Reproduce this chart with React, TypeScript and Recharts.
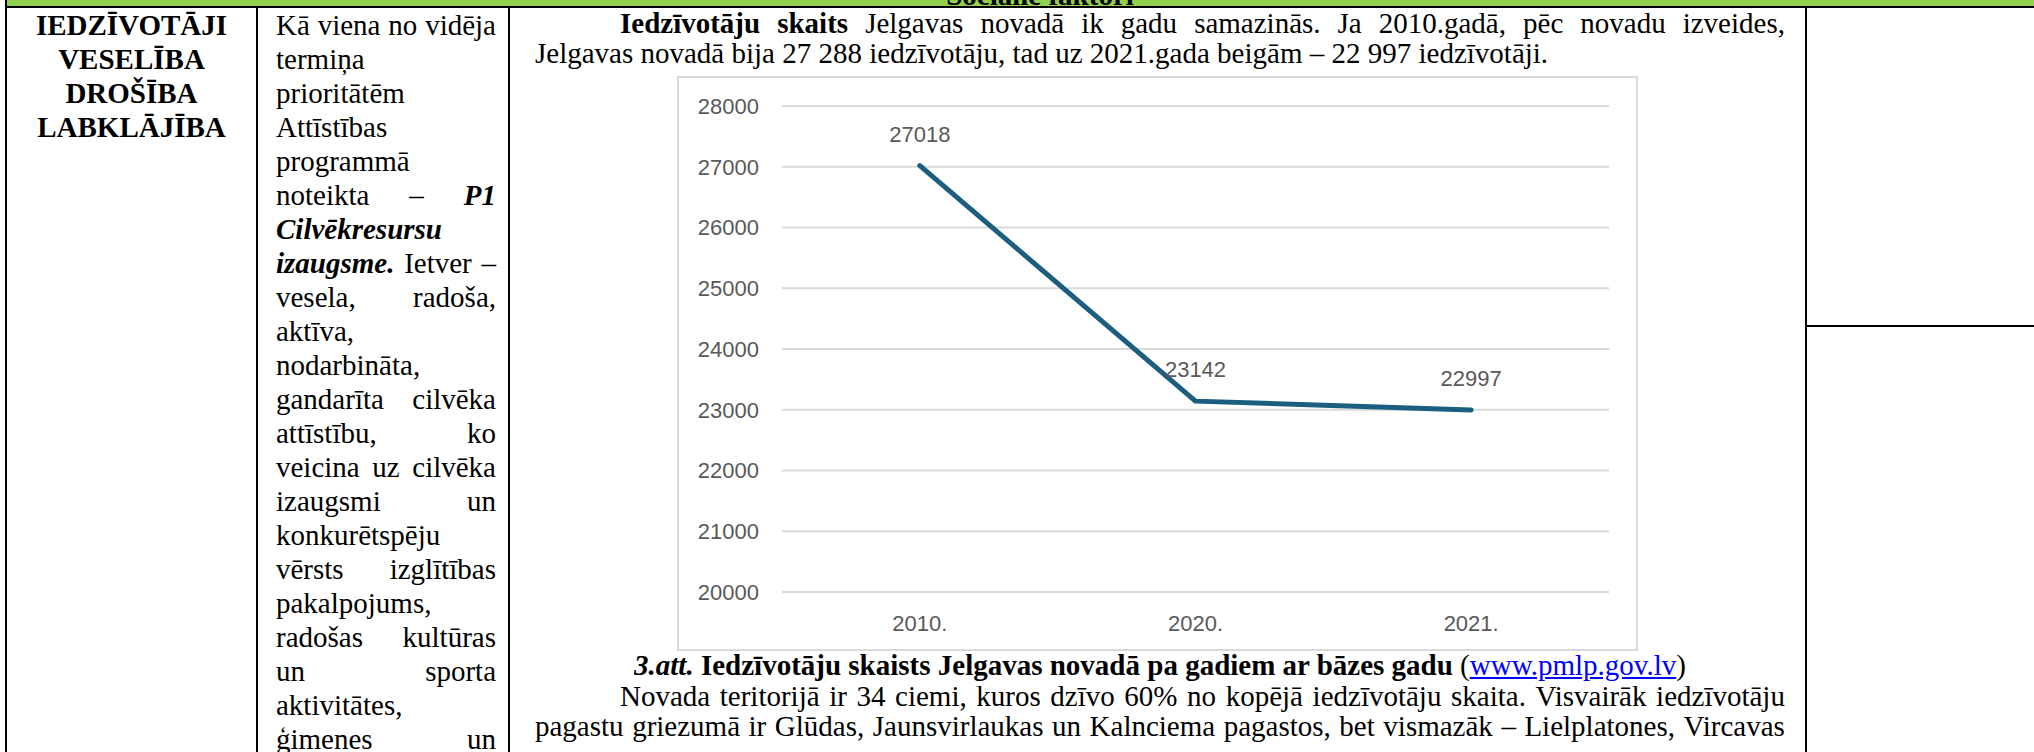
import React from 'react'
import { LineChart, Line, XAxis, YAxis, CartesianGrid, LabelList } from 'recharts'

const years = ['2010.', '2020.', '2021.']
const residents = [27018, 23142, 22997]
const yTicks = [20000, 21000, 22000, 23000, 24000, 25000, 26000, 27000, 28000]

const data = years.map((year, i) => ({ year, value: residents[i] }))

type Seg = { t: string; b?: boolean; i?: boolean; link?: boolean }
type TextRow = { parts: Seg[]; justify: boolean }

const themeLines = ['IEDZĪVOTĀJI', 'VESELĪBA', 'DROŠĪBA', 'LABKLĀJĪBA']

const priorityRows: TextRow[] = [
  { parts: [{ t: 'Kā viena no vidēja' }], justify: true },
  { parts: [{ t: 'termiņa' }], justify: false },
  { parts: [{ t: 'prioritātēm' }], justify: false },
  { parts: [{ t: 'Attīstības' }], justify: false },
  { parts: [{ t: 'programmā' }], justify: false },
  { parts: [{ t: 'noteikta – ' }, { t: 'P1', b: true, i: true }], justify: true },
  { parts: [{ t: 'Cilvēkresursu', b: true, i: true }], justify: false },
  { parts: [{ t: 'izaugsme.', b: true, i: true }, { t: ' Ietver –' }], justify: true },
  { parts: [{ t: 'vesela, radoša,' }], justify: true },
  { parts: [{ t: 'aktīva,' }], justify: false },
  { parts: [{ t: 'nodarbināta,' }], justify: false },
  { parts: [{ t: 'gandarīta cilvēka' }], justify: true },
  { parts: [{ t: 'attīstību, ko' }], justify: true },
  { parts: [{ t: 'veicina uz cilvēka' }], justify: true },
  { parts: [{ t: 'izaugsmi un' }], justify: true },
  { parts: [{ t: 'konkurētspēju' }], justify: false },
  { parts: [{ t: 'vērsts izglītības' }], justify: true },
  { parts: [{ t: 'pakalpojums,' }], justify: false },
  { parts: [{ t: 'radošas kultūras' }], justify: true },
  { parts: [{ t: 'un sporta' }], justify: true },
  { parts: [{ t: 'aktivitātes,' }], justify: false },
  { parts: [{ t: 'ģimenes un' }], justify: true },
]

const introLine1: Seg[] = [
  { t: 'Iedzīvotāju skaits', b: true },
  { t: ' Jelgavas novadā ik gadu samazinās. Ja 2010.gadā, pēc novadu izveides,' },
]
const introLine2: Seg[] = [
  { t: 'Jelgavas novadā bija 27 288 iedzīvotāju, tad uz 2021.gada beigām – 22 997 iedzīvotāji.' },
]
const caption: Seg[] = [
  { t: '3.att.', b: true, i: true },
  { t: ' Iedzīvotāju skaists Jelgavas novadā pa gadiem ar bāzes gadu', b: true },
  { t: ' (' },
  { t: 'www.pmlp.gov.lv', link: true },
  { t: ')' },
]
const outroLine1: Seg[] = [
  { t: 'Novada teritorijā ir 34 ciemi, kuros dzīvo 60% no kopējā iedzīvotāju skaita. Visvairāk iedzīvotāju' },
]
const outroLine2: Seg[] = [
  { t: 'pagastu griezumā ir Glūdas, Jaunsvirlaukas un Kalnciema pagastos, bet vismazāk – Lielplatones, Vircavas' },
]

const serif = '"Liberation Serif", "Times New Roman", serif'
const sans = '"Liberation Sans", Arial, sans-serif'
const FS = 29

const segStyle = (s: Seg): React.CSSProperties => ({
  fontWeight: s.b ? 'bold' : 'normal',
  fontStyle: s.i ? 'italic' : 'normal',
  color: s.link ? '#0000ff' : '#000',
  textDecoration: s.link ? 'underline' : 'none',
})

function Row(props: {
  parts: Seg[]
  justify?: boolean
  left: number
  top: number
  width: number
  lh: number
  indent?: number
  center?: boolean
}) {
  const { parts, justify, left, top, width, lh, indent = 0, center } = props
  const base: React.CSSProperties = {
    position: 'absolute',
    left,
    top,
    width: width - indent,
    paddingLeft: indent,
    height: lh,
    lineHeight: `${lh}px`,
    fontFamily: serif,
    fontSize: FS,
    whiteSpace: 'pre',
    textAlign: center ? 'center' : 'left',
  }
  if (justify) {
    const words: Seg[] = []
    parts.forEach((p) =>
      p.t
        .split(' ')
        .filter(Boolean)
        .forEach((w) => words.push({ ...p, t: w }))
    )
    return (
      <div style={{ ...base, display: 'flex', justifyContent: 'space-between' }}>
        {words.map((w, k) => (
          <span key={k} style={segStyle(w)}>
            {w.t}
          </span>
        ))}
      </div>
    )
  }
  return (
    <div style={base}>
      {parts.map((p, k) => (
        <span key={k} style={segStyle(p)}>
          {p.t}
        </span>
      ))}
    </div>
  )
}

const rule = (left: number, top: number, width: number, height: number, color = '#000') => (
  <div style={{ position: 'absolute', left, top, width, height, background: color }} />
)

// chart frame and plot geometry
const chartW = 957
const chartH = 571
const margin = { top: 28, right: 27, left: 0, bottom: 0 }
const yAxisW = 103
const plotW = chartW - margin.left - margin.right - yAxisW
const catPad = plotW / (years.length * 2)
const tickStyle = { fill: '#595959', fontSize: 22, fontFamily: sans }

function PopulationChart() {
  return (
    <div
      style={{
        position: 'absolute',
        left: 677,
        top: 76,
        width: 961,
        height: 575,
        boxSizing: 'border-box',
        border: '2px solid #d9d9d9',
        background: '#fff',
      }}
    >
      <LineChart width={chartW} height={chartH} data={data} margin={margin}>
        <CartesianGrid vertical={false} stroke="#d9d9d9" strokeWidth={2} />
        <XAxis
          dataKey="year"
          axisLine={false}
          tickLine={false}
          tickMargin={17}
          height={57}
          padding={{ left: catPad, right: catPad }}
          tick={tickStyle}
        />
        <YAxis
          domain={[20000, 28000]}
          ticks={yTicks}
          axisLine={false}
          tickLine={false}
          tickMargin={17}
          width={yAxisW}
          tick={tickStyle}
        />
        <Line
          type="linear"
          dataKey="value"
          stroke="#1b5e80"
          strokeWidth={5}
          strokeLinecap="round"
          strokeLinejoin="round"
          dot={false}
          isAnimationActive={false}
        >
          <LabelList dataKey="value" position="top" offset={24} fill="#595959" fontSize={22} fontFamily={sans} />
        </Line>
      </LineChart>
    </div>
  )
}

export default function App() {
  return (
    <div
      style={{
        position: 'absolute',
        left: 0,
        top: 0,
        width: 2034,
        height: 752,
        overflow: 'hidden',
        background: '#fff',
        color: '#000',
      }}
    >
      {/* green header row, cut off at the top */}
      {rule(7, 0, 2027, 6, '#92d050')}
      <div
        style={{
          position: 'absolute',
          left: 6,
          top: -20,
          width: 2068,
          lineHeight: '30px',
          fontFamily: serif,
          fontSize: FS,
          fontWeight: 'bold',
          textAlign: 'center',
        }}
      >
        Sociālie faktori
      </div>
      {rule(5, 6, 2029, 2)}

      {/* table rules */}
      {rule(5, 0, 2, 752)}
      {rule(256, 7, 2, 745)}
      {rule(508, 7, 2, 745)}
      {rule(1805, 7, 2, 745)}
      {rule(1805, 325, 229, 2)}

      {/* column 1 */}
      {themeLines.map((t, i) => (
        <div
          key={t}
          style={{
            position: 'absolute',
            left: 7,
            top: 8 + i * 34,
            width: 249,
            height: 34,
            lineHeight: '34px',
            textAlign: 'center',
            fontFamily: serif,
            fontSize: FS,
            fontWeight: 'bold',
          }}
        >
          {t}
        </div>
      ))}

      {/* column 2 */}
      {priorityRows.map((r, i) => (
        <Row key={i} parts={r.parts} justify={r.justify} left={276} top={8 + i * 34} width={220} lh={34} />
      ))}

      {/* column 3 */}
      <Row parts={introLine1} justify left={535} top={8} width={1250} lh={30} indent={85} />
      <Row parts={introLine2} left={535} top={38} width={1250} lh={30} />
      <PopulationChart />
      <Row parts={caption} left={535} top={650} width={1250} lh={30} center />
      <Row parts={outroLine1} justify left={535} top={681} width={1250} lh={30} indent={85} />
      <Row parts={outroLine2} justify left={535} top={711} width={1250} lh={30} />
    </div>
  )
}
